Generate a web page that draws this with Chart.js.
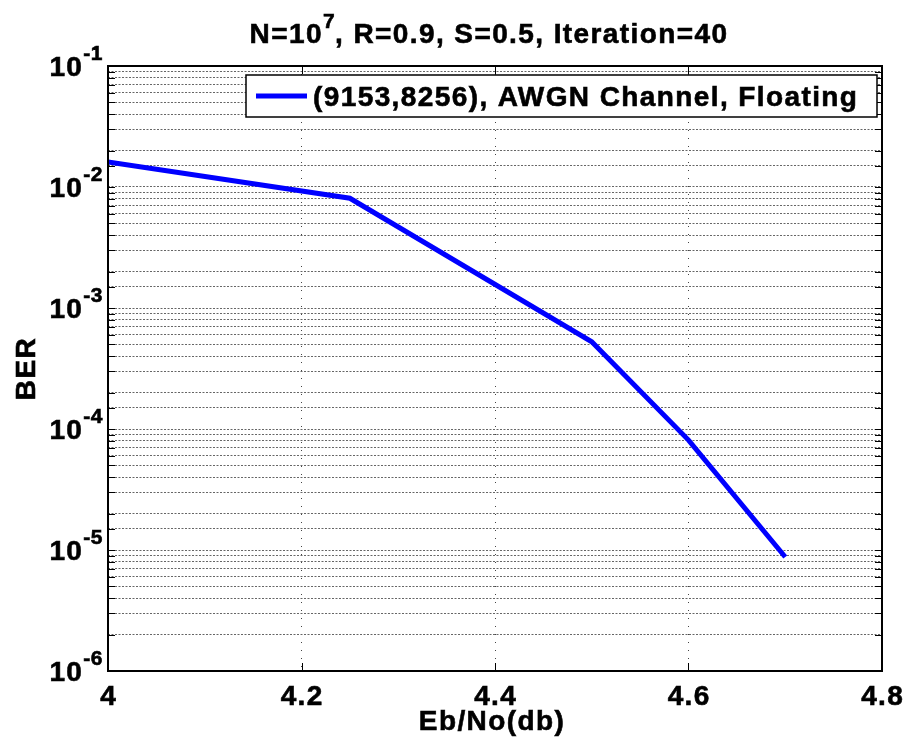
<!DOCTYPE html>
<html>
<head>
<meta charset="utf-8">
<script src="https://cdn.jsdelivr.net/npm/chart.js@4/dist/chart.umd.min.js"></script>
<style>
  body { margin: 0; background: #fff; }
  #wrap { width: 905px; height: 744px; position: relative; }
</style>
</head>
<body>
<div id="wrap"><canvas id="ber"></canvas></div>
<script>
// values
const ebNo = [4.0, 4.25, 4.5, 4.6, 4.7];
const ber = [1.61e-2, 8.07e-3, 5.26e-4, 8.1e-5, 8.75e-6];
const xTickLabels = ['4', '4.2', '4.4', '4.6', '4.8'];
const yExponents = ['-1', '-2', '-3', '-4', '-5', '-6'];
const seriesLabel = '(9153,8256), AWGN Channel, Floating';

const FONT = '"Liberation Sans", Arial, Helvetica, sans-serif';
const bold = (px) => `bold ${px}px ${FONT}`;

function textW(ctx, s, font, spacing) {
    ctx.font = font;
    ctx.letterSpacing = spacing || '0px';
    return ctx.measureText(s).width;
}

// matlab text looks a bit heavier, so stroke it lightly too
function heavyText(ctx, s, x, y) {
    ctx.fillText(s, x, y);
    ctx.strokeText(s, x, y);
}

const matlabDecor = {
    id: 'matlabDecor',
    afterDraw(chart) {
        const {ctx, chartArea: {left, right, top, bottom}} = chart;
        const xs = chart.scales.x, ys = chart.scales.y;
        ctx.save();

        // inward ticks
        ctx.strokeStyle = '#000';
        ctx.lineWidth = 1;
        ctx.beginPath();
        xs.ticks.forEach(t => {
            const px = Math.round(xs.getPixelForValue(t.value)) + 0.5;
            ctx.moveTo(px, bottom); ctx.lineTo(px, bottom - 8);
            ctx.moveTo(px, top); ctx.lineTo(px, top + 8);
        });
        ys.ticks.forEach(t => {
            const py = Math.round(ys.getPixelForValue(t.value)) + 0.5;
            ctx.moveTo(left, py); ctx.lineTo(left + 7, py);
            ctx.moveTo(right, py); ctx.lineTo(right - 7, py);
        });
        ctx.stroke();

        // box
        ctx.lineWidth = 2;
        ctx.strokeRect(left, top, right - left, bottom - top);

        ctx.fillStyle = '#000';
        ctx.strokeStyle = '#000';
        ctx.lineWidth = 0.6;
        ctx.textBaseline = 'alphabetic';

        // x tick labels
        ctx.textAlign = 'center';
        ctx.font = bold(28);
        ctx.letterSpacing = '1.4px';
        xTickLabels.forEach(lbl => {
            const px = xs.getPixelForValue(parseFloat(lbl));
            heavyText(ctx, lbl, px + 0.7, 705);
        });

        // y tick labels 10^e
        ctx.textAlign = 'left';
        yExponents.forEach(e => {
            const py = ys.getPixelForValue(Math.pow(10, parseInt(e)));
            const wb = textW(ctx, '10', bold(28), '1.4px');
            const we = textW(ctx, e, bold(21), '0.5px');
            const x0 = 103 - wb - we;
            ctx.font = bold(28); ctx.letterSpacing = '1.4px';
            heavyText(ctx, '10', x0, py + 10);
            ctx.font = bold(21); ctx.letterSpacing = '0.5px';
            heavyText(ctx, e, x0 + wb, py - 6);
        });

        // axis titles
        ctx.textAlign = 'center';
        ctx.font = bold(28);
        ctx.letterSpacing = '1.4px';
        heavyText(ctx, 'Eb/No(db)', 492, 730);
        ctx.save();
        ctx.translate(35, (top + bottom) / 2);
        ctx.rotate(-Math.PI / 2);
        heavyText(ctx, 'BER', 0, 0);
        ctx.restore();

        // title with superscript
        ctx.textAlign = 'left';
        const parts = [['N=10', 28, 0], ['7', 21, -15], [', R=0.9, S=0.5, Iteration=40', 28, 0]];
        let total = 0;
        parts.forEach(p => { total += textW(ctx, p[0], bold(p[1]), p[1] === 28 ? '1.4px' : '0.5px'); });
        let tx = 489 - total / 2;
        parts.forEach(p => {
            const w = textW(ctx, p[0], bold(p[1]), p[1] === 28 ? '1.4px' : '0.5px');
            heavyText(ctx, p[0], tx, 43 + p[2]);
            tx += w;
        });

        // legend box
        const lx = 246, ly = 75, lw = 631, lh = 42;
        ctx.fillStyle = '#fff';
        ctx.fillRect(lx, ly, lw, lh);
        ctx.lineWidth = 1.5;
        ctx.strokeStyle = '#000';
        ctx.strokeRect(lx, ly, lw, lh);
        const ds = chart.data.datasets[0];
        ctx.strokeStyle = ds.borderColor;
        ctx.lineWidth = ds.borderWidth;
        ctx.beginPath();
        ctx.moveTo(256, 96); ctx.lineTo(307, 96);
        ctx.stroke();
        ctx.fillStyle = '#000';
        ctx.strokeStyle = '#000';
        ctx.lineWidth = 0.6;
        ctx.font = bold(28);
        ctx.letterSpacing = '1.4px';
        heavyText(ctx, ds.label, 313, 106);

        ctx.restore();
    }
};

new Chart(document.getElementById('ber').getContext('2d'), {
    type: 'line',
    data: {
        datasets: [{
            label: seriesLabel,
            data: ebNo.map((x, i) => ({x: x, y: ber[i]})),
            borderColor: '#0000ff',
            borderWidth: 5,
            pointRadius: 0,
            tension: 0,
            fill: false
        }]
    },
    options: {
        responsive: true,
        maintainAspectRatio: false,
        animation: false,
        events: [],
        layout: {padding: {left: 108, top: 66, right: 23, bottom: 73}},
        plugins: {legend: {display: false}, title: {display: false}, tooltip: {enabled: false}},
        scales: {
            x: {
                type: 'linear',
                min: 4,
                max: 4.8,
                ticks: {display: false, stepSize: 0.2},
                grid: {color: '#444', lineWidth: 1, drawTicks: false},
                border: {display: false, dash: [1, 7]},
                afterFit: (s) => { s.height = 0; }
            },
            y: {
                type: 'logarithmic',
                min: 1e-6,
                max: 1e-1,
                ticks: {display: false},
                grid: {color: '#666', lineWidth: 1, drawTicks: false},
                border: {display: false, dash: [2, 1.5]},
                afterFit: (s) => { s.width = 0; }
            }
        }
    },
    plugins: [matlabDecor]
});
</script>
</body>
</html>
